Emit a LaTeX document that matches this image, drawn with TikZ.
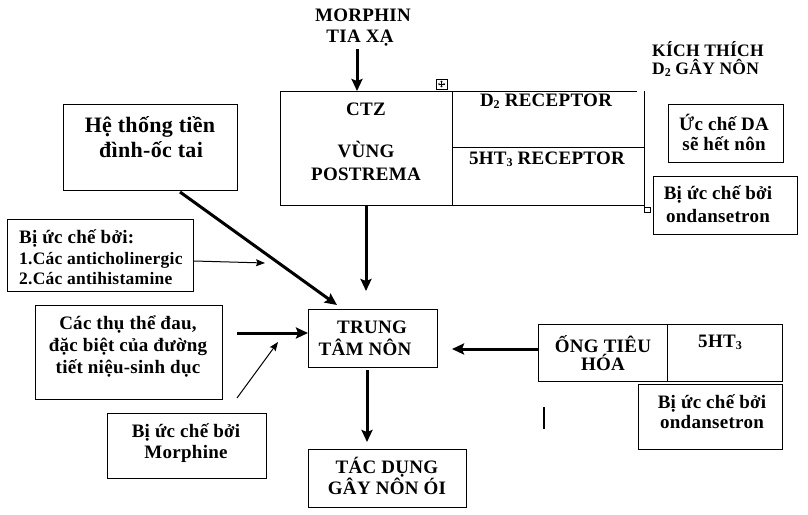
\documentclass[tikz,border=0pt]{standalone}
\usepackage{fontspec}
\setmainfont[LetterSpace=1.5]{Liberation Serif}
\usetikzlibrary{arrows.meta}
\newcommand\mysub[1]{\raisebox{-0.3ex}{\fontsize{12}{12}\selectfont #1}}
\begin{document}
\begin{tikzpicture}[x=1pt,y=-1pt,
  box/.style={draw, line width=0.9pt, inner sep=0pt, anchor=north west},
  txt/.style={inner sep=0pt, anchor=base, font=\bfseries\fontsize{19}{22}\selectfont},
  txtl/.style={inner sep=0pt, anchor=base west, font=\bfseries\fontsize{19}{22}\selectfont},
  thick arrow/.style={line width=3pt, -{Stealth[length=12pt,width=11pt,inset=2pt]}},
  thin arrow/.style={line width=1pt, -{Stealth[length=9pt,width=7pt,inset=1.5pt]}},
  tline/.style={line width=0.9pt}]
\useasboundingbox[fill=white] (0,0) rectangle (808,514);

% ---------- top inputs ----------
\node[txt] (morphin) at (363,21) {MORPHIN};
\node[txt] (tiaxa) at (360,42) {TIA XẠ};
\coordinate (mstart) at (357,49);

% ---------- CTZ table ----------
\node[box, draw=none, minimum width=172pt, minimum height=114pt] (ctz) at (280,91) {};
\draw[tline] (280,91) -- (637,91);
\draw[tline] (280,91) -- (280,205) -- (644,205);
\draw[tline] (644,91) -- (644,207);
\draw[tline] (452,91) -- (452,205);
\draw[tline] (452,147) -- (644,147);
\draw[line width=0.7pt] (644,207) rectangle (650,212);
% move handle
\draw[line width=0.7pt] (436,79) rectangle (447,89);
\draw[line width=0.6pt] (441.5,81) -- (441.5,87) (438.5,84) -- (444.5,84);
\draw[line width=0.5pt] (440.5,82) -- (441.5,81) -- (442.5,82)
                        (440.5,86) -- (441.5,87) -- (442.5,86)
                        (439.5,83) -- (438.5,84) -- (439.5,85)
                        (443.5,83) -- (444.5,84) -- (443.5,85);

\node[txt] (ctzt) at (366,115) {CTZ};
\node[txt] (vung) at (366,157) {VÙNG};
\node[txt] (postrema) at (366,180) {POSTREMA};
\node[txt] (d2) at (546,106) {D\mysub{2} RECEPTOR};
\node[txt] (ht3) at (547,164) {5HT\mysub{3} RECEPTOR};

\draw[thick arrow] (mstart) -- (mstart |- ctz.north);

% ---------- right notes ----------
\node[txtl, font=\bfseries\fontsize{17.5}{20}\selectfont] (kich) at (652,56) {KÍCH THÍCH};
\node[txtl, font=\bfseries\fontsize{17.5}{20}\selectfont] (d2gay) at (652,74) {D\mysub{2} GÂY NÔN};

\node[box, minimum width=115pt, minimum height=58pt] (ucche) at (668,104) {};
\node[txt] (uc1) at (724,130) {Ức chế DA};
\node[txt] (uc2) at (724,150) {sẽ hết nôn};

\node[box, minimum width=144pt, minimum height=58pt] (bionda1) at (653,176) {};
\node[txt] (bo1) at (718,199) {Bị ức chế bởi};
\node[txt] (bo2) at (718,222) {ondansetron};

% ---------- left boxes ----------
\node[box, minimum width=174pt, minimum height=86pt] (heth) at (63,104) {};
\node[txt, font=\bfseries\fontsize{22}{25}\selectfont] (he1) at (150,132) {Hệ thống tiền};
\node[txt, font=\bfseries\fontsize{22}{25}\selectfont] (he2) at (151,157) {đình-ốc tai};

\node[box, minimum width=186pt, minimum height=72pt] (anti) at (7,219) {};
\node[txtl] (an1) at (19,243) {Bị ức chế bởi:};
\node[txtl, font=\bfseries\fontsize{17.5}{20}\selectfont] (an2) at (19,264) {1.Các anticholinergic};
\node[txtl, font=\bfseries\fontsize{17.5}{20}\selectfont] (an3) at (19,284) {2.Các antihistamine};

\node[box, minimum width=187pt, minimum height=94pt] (thu) at (35,305) {};
\node[txt] (th1) at (128,329) {Các thụ thể đau,};
\node[txt] (th2) at (128,351) {đặc biệt của đường};
\node[txt] (th3) at (128,373) {tiết niệu-sinh dục};

\node[box, minimum width=159pt, minimum height=65pt] (morph) at (107,413) {};
\node[txt] (mo1) at (186,437) {Bị ức chế bởi};
\node[txt] (mo2) at (186,458) {Morphine};

% ---------- centre ----------
\node[box, minimum width=129pt, minimum height=58pt] (trung) at (308,309) {};
\node[txt] (tr1) at (372,333) {TRUNG};
\node[txt] (tr2) at (365,355) {TÂM NÔN};

\node[box, minimum width=158pt, minimum height=58pt] (tacdung) at (308,449) {};
\node[txt] (ta1) at (387,473) {TÁC DỤNG};
\node[txt] (ta2) at (387,494) {GÂY NÔN ÓI};

% ---------- right lower ----------
\node[box, minimum width=129pt, minimum height=57pt] (ong) at (538,324) {};
\node[box, minimum width=115pt, minimum height=57pt] (ht5) at (667,324) {};
\node[txt] (on1) at (603,352) {ỐNG TIÊU};
\node[txt] (on2) at (603,370) {HÓA};
\node[txt] (h5) at (720,347) {5HT\mysub{3}};

\node[box, minimum width=144pt, minimum height=65pt] (bionda2) at (638,384) {};
\node[txt] (bb1) at (712,408) {Bị ức chế bởi};
\node[txt] (bb2) at (712,428) {ondansetron};

\coordinate (bar1) at (544,407);
\coordinate (bar2) at (544,429);
\draw[line width=1.6pt] (bar1) -- (bar2);

% ---------- connectors ----------
\coordinate (hes) at (180,192);
\coordinate (hee) at (337,305);
\draw[thick arrow] (hes) -- (hee);

\coordinate (ctzs) at (366,206);
\coordinate (ctze) at (366,291);
\draw[thick arrow] (ctzs) -- (ctze);

\coordinate (ane) at (265,263);
\draw[thin arrow] (anti.east |- 0,261) -- (ane);

\coordinate (ths) at (237,333);
\draw[thick arrow] (ths) -- (trung.west |- ths);

\coordinate (mos) at (237,398);
\coordinate (moe) at (278,342);
\draw[thin arrow] (mos) -- (moe);

\coordinate (ong_e) at (452,349);
\draw[thick arrow] (ong.west |- ong_e) -- (ong_e);

\coordinate (trs) at (367,370);
\coordinate (tre) at (367,442);
\draw[thick arrow] (trs) -- (tre);
\end{tikzpicture}
\end{document}
